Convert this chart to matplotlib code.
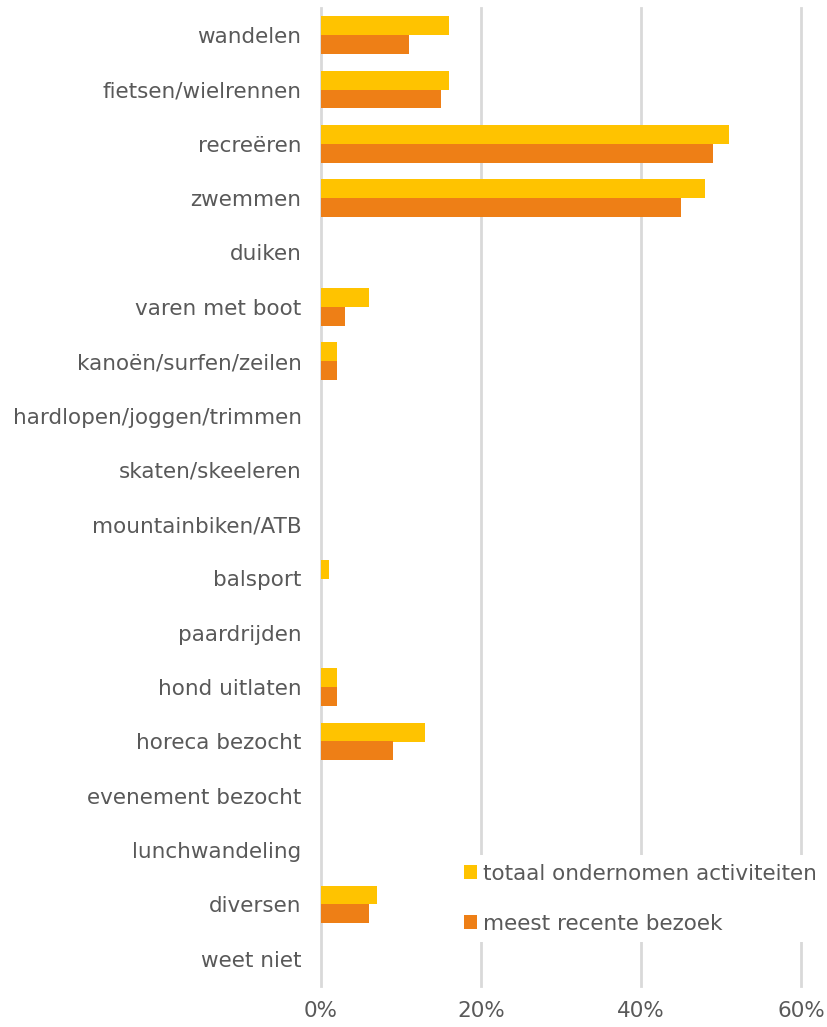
import numpy as np
import matplotlib.pyplot as plt
from matplotlib.ticker import FuncFormatter

categories = [
    "wandelen", "fietsen/wielrennen", "recreëren", "zwemmen", "duiken",
    "varen met boot", "kanoën/surfen/zeilen", "hardlopen/joggen/trimmen",
    "skaten/skeeleren", "mountainbiken/ATB", "balsport", "paardrijden",
    "hond uitlaten", "horeca bezocht", "evenement bezocht", "lunchwandeling",
    "diversen", "weet niet",
]
totaal = [16, 16, 51, 48, 0, 6, 2, 0, 0, 0, 1, 0, 2, 13, 0, 0, 7, 0]
recent = [11, 15, 49, 45, 0, 3, 2, 0, 0, 0, 0, 0, 2, 9, 0, 0, 6, 0]
series_labels = ["totaal ondernomen activiteiten", "meest recente bezoek"]

YELLOW = "#FFC300"
ORANGE = "#EE7F16"
TEXT = "#595959"
GRID = "#D9D9D9"
FS = 15.5

fig = plt.figure(figsize=(8.27, 10.27), dpi=100)
ax = fig.add_axes([321 / 827, 1 - 986 / 1027, 480 / 827, 978 / 1027])

y = np.arange(len(categories))
h = 0.345
ax.barh(y - h / 2, totaal, height=h, color=YELLOW, label=series_labels[0], zorder=3)
ax.barh(y + h / 2, recent, height=h, color=ORANGE, label=series_labels[1], zorder=3)

ax.set_xlim(0, 60)
ax.set_ylim(len(categories) - 0.5, -0.5)
ax.set_xticks([0, 20, 40, 60])
ax.xaxis.set_major_formatter(FuncFormatter(lambda v, _: f"{v:.0f}%"))
ax.set_yticks(y)
ax.set_yticklabels(categories, va="bottom")
ax.tick_params(axis="both", length=0, labelsize=FS, colors=TEXT)
ax.tick_params(axis="y", pad=14)
ax.tick_params(axis="x", pad=11)
for lbl in ax.get_yticklabels():
    lbl.set_va("center_baseline")
ax.grid(axis="x", color=GRID, linewidth=2, zorder=0)
for line in ax.get_xgridlines():
    line.set_clip_on(False)
for spine in ax.spines.values():
    spine.set_visible(False)

leg = ax.legend(loc="upper left", bbox_to_anchor=(0.28, 0.134), frameon=True,
                fontsize=FS, handlelength=0.6, handleheight=0.6, handletextpad=0.3,
                labelspacing=1.4, borderaxespad=0, borderpad=0.4)
leg.get_frame().set_facecolor("white")
leg.get_frame().set_edgecolor("none")
leg.get_frame().set_alpha(1)
for t in leg.get_texts():
    t.set_color(TEXT)

fig.savefig("out.png", dpi=100)
